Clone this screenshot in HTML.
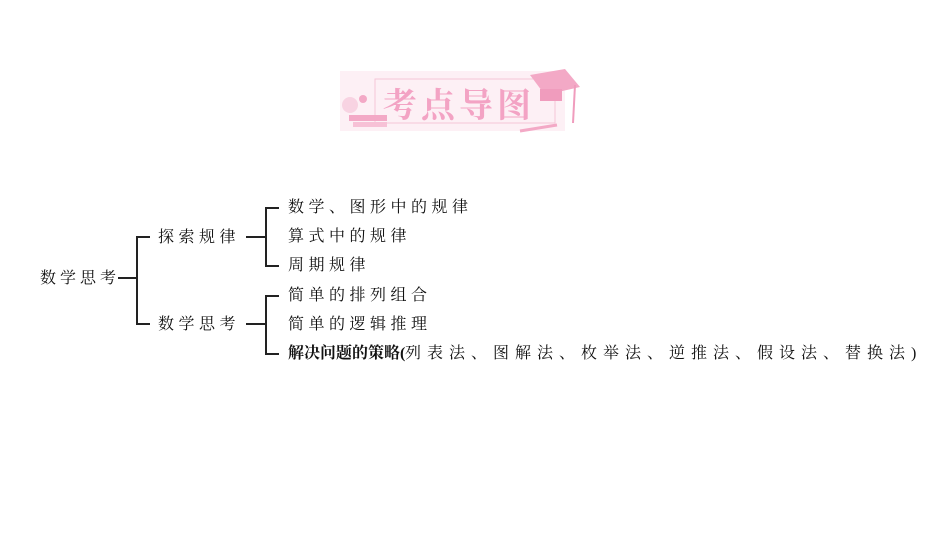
<!DOCTYPE html>
<html><head><meta charset="utf-8"><style>
body{margin:0;width:950px;height:535px;background:#fff;position:relative;overflow:hidden;font-family:"Liberation Serif","Noto Serif CJK SC",serif;color:#111}
.t{position:absolute;font-size:16px;line-height:20px;letter-spacing:4.5px;white-space:nowrap}
.l{position:absolute;background:#222}
</style></head><body>
<svg style="position:absolute;left:335px;top:65px" width="250" height="72">
<rect x="5" y="6" width="225" height="60" fill="#fdf0f5"/>
<rect x="40" y="14" width="180" height="44" fill="none" stroke="#f5c6d8" stroke-width="1"/>
<circle cx="15" cy="40" r="8" fill="#f8d3e2"/>
<circle cx="28" cy="34" r="4" fill="#f3a9c6"/>
<rect x="14" y="50" width="38" height="6" fill="#f3a9c6"/>
<rect x="18" y="57" width="34" height="5" fill="#f7c1d6"/>
<polygon points="195,10 230,4 245,22 210,30" fill="#f3a9c6"/>
<rect x="205" y="24" width="22" height="12" fill="#f09cbd"/>
<line x1="240" y1="20" x2="238" y2="58" stroke="#f09cbd" stroke-width="2"/>
<line x1="185" y1="66" x2="222" y2="60" stroke="#f3a9c6" stroke-width="3"/>
<text x="48" y="52" font-size="34" font-weight="bold" fill="#f3a3c4" letter-spacing="4" font-family="Noto Serif CJK SC,serif">考点导图</text>
</svg>
<div class="t" style="left:40px;top:269px;letter-spacing:4px">数学思考</div>
<div class="l" style="left:118px;top:277px;width:19px;height:1.5px"></div>
<div class="l" style="left:136px;top:236px;width:1.5px;height:88px"></div>
<div class="l" style="left:136px;top:236px;width:14px;height:1.5px"></div>
<div class="l" style="left:136px;top:323px;width:14px;height:1.5px"></div>
<div class="t" style="left:158px;top:228px">探索规律</div>
<div class="t" style="left:158px;top:315px">数学思考</div>
<div class="l" style="left:246px;top:236px;width:20px;height:1.5px"></div>
<div class="l" style="left:265px;top:207px;width:1.5px;height:59px"></div>
<div class="l" style="left:265px;top:207px;width:14px;height:1.5px"></div>
<div class="l" style="left:265px;top:265px;width:14px;height:1.5px"></div>
<div class="l" style="left:246px;top:323px;width:20px;height:1.5px"></div>
<div class="l" style="left:265px;top:295px;width:1.5px;height:59px"></div>
<div class="l" style="left:265px;top:295px;width:14px;height:1.5px"></div>
<div class="l" style="left:265px;top:353px;width:14px;height:1.5px"></div>
<div class="t" style="left:288px;top:198px">数学、图形中的规律</div>
<div class="t" style="left:288px;top:227px">算式中的规律</div>
<div class="t" style="left:288px;top:256px">周期规律</div>
<div class="t" style="left:288px;top:286px">简单的排列组合</div>
<div class="t" style="left:288px;top:315px">简单的逻辑推理</div>
<div class="t" style="left:288px;top:344px;letter-spacing:0;font-weight:bold">解决问题的策略(</div>
<div class="t" style="left:405px;top:344px;letter-spacing:6px">列表法、图解法、枚举法、逆推法、假设法、替换法)</div>
</body></html>
